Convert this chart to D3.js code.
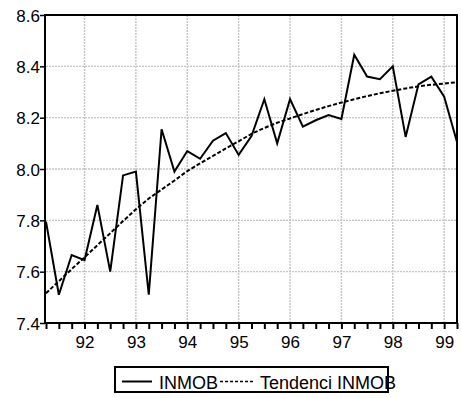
<!DOCTYPE html>
<html><head><meta charset="utf-8">
<script src="https://cdn.jsdelivr.net/npm/d3@7"></script>
<style>
html,body{margin:0;padding:0;background:#fff;}
svg{display:block;font-family:"Liberation Sans",Arial,Helvetica,sans-serif;}
</style></head>
<body>
<svg id="chart" width="461" height="398"></svg>
<script>
// Quarterly observations 1991Q2 .. 1999Q2
const quarters = ["1991Q2","1991Q3","1991Q4",
  "1992Q1","1992Q2","1992Q3","1992Q4",
  "1993Q1","1993Q2","1993Q3","1993Q4",
  "1994Q1","1994Q2","1994Q3","1994Q4",
  "1995Q1","1995Q2","1995Q3","1995Q4",
  "1996Q1","1996Q2","1996Q3","1996Q4",
  "1997Q1","1997Q2","1997Q3","1997Q4",
  "1998Q1","1998Q2","1998Q3","1998Q4",
  "1999Q1","1999Q2"];
const inmob = [7.795,7.51,7.665,7.645,7.86,7.60,7.975,7.99,7.51,8.155,7.99,8.07,8.04,8.11,8.14,8.055,8.128,8.272,8.10,8.272,8.165,8.19,8.21,8.195,8.445,8.36,8.35,8.40,8.125,8.33,8.36,8.282,8.105];
const tendencia = [7.516,7.563,7.610,7.656,7.703,7.750,7.797,7.843,7.885,7.920,7.955,7.992,8.022,8.051,8.080,8.108,8.137,8.160,8.180,8.197,8.214,8.230,8.245,8.259,8.272,8.284,8.295,8.305,8.314,8.322,8.328,8.333,8.338];
const yTicks = [7.4,7.6,7.8,8.0,8.2,8.4,8.6];
const yearLabels = ["92","93","94","95","96","97","98","99"];
const seriesNames = ["INMOB","Tendenci INMOB"];

const svg = d3.select("#chart");
const L = 46, R = 457, T = 15, B = 323;
const idx = quarters.map((q,i)=>i);
const x = d3.scaleLinear().domain([0, quarters.length-1]).range([L, R]);
const y = d3.scaleLinear().domain([7.4, 8.6]).range([B, T]);

// year positions: first quarter of each year
const yearIdx = idx.filter(i => quarters[i].endsWith("Q1"));

// grid
const grid = svg.append("g").attr("stroke","#c4c4c4").attr("stroke-width",1.4).attr("stroke-dasharray","2,1");
grid.selectAll("line.v").data(yearIdx).join("line")
  .attr("x1", d=>x(d)).attr("x2", d=>x(d)).attr("y1", T).attr("y2", B);
grid.selectAll("line.h").data(yTicks.slice(1,-1)).join("line")
  .attr("x1", L).attr("x2", R).attr("y1", d=>y(d)).attr("y2", d=>y(d));

// axes
const xAxis = d3.axisBottom(x).tickValues(idx).tickSize(6).tickSizeOuter(0)
  .tickFormat(i => quarters[i].endsWith("Q1") ? quarters[i].slice(2,4) : "");
const gx = svg.append("g").attr("transform",`translate(0,${B})`).call(xAxis);
gx.select(".domain").remove();
gx.selectAll(".tick line").attr("stroke","#000").attr("stroke-width",2);
gx.selectAll(".tick text").attr("font-size",17).attr("fill","#000").attr("dy","0.95em").attr("font-family",null);

const yAxis = d3.axisLeft(y).tickValues(yTicks).tickSize(5).tickSizeOuter(0).tickFormat(d3.format(".1f"));
const gy = svg.append("g").attr("transform",`translate(${L-1},0)`).call(yAxis);
gy.select(".domain").remove();
gy.selectAll(".tick line").attr("stroke","#000").attr("stroke-width",1.5);
gy.selectAll(".tick text").attr("font-size",17).attr("fill","#000").attr("x",-5).attr("dy","0.36em").attr("font-family",null);

// series
const line = d3.line().x((d,i)=>x(i)).y(d=>y(d));
svg.append("path").datum(tendencia).attr("d", line).attr("fill","none")
  .attr("stroke","#000").attr("stroke-width",2).attr("stroke-dasharray","4,2");
svg.append("path").datum(inmob).attr("d", line).attr("fill","none")
  .attr("stroke","#000").attr("stroke-width",2).attr("stroke-linejoin","miter");

// frame
svg.append("rect").attr("x",L-1).attr("y",T).attr("width",R-L+1).attr("height",B-T)
  .attr("fill","none").attr("stroke","#000").attr("stroke-width",2);

// legend
const lg = svg.append("g");
lg.append("rect").attr("x",115).attr("y",367).attr("width",273).attr("height",25)
  .attr("fill","none").attr("stroke","#000").attr("stroke-width",2);
lg.append("line").attr("x1",122).attr("x2",152).attr("y1",381.5).attr("y2",381.5)
  .attr("stroke","#000").attr("stroke-width",2);
lg.append("text").attr("x",159).attr("y",388.5).attr("font-size",18).text(seriesNames[0]);
lg.append("line").attr("x1",220).attr("x2",255).attr("y1",381.5).attr("y2",381.5)
  .attr("stroke","#000").attr("stroke-width",1.5).attr("stroke-dasharray","3,2");
lg.append("text").attr("x",260).attr("y",388.5).attr("font-size",18).text(seriesNames[1]);
</script>
</body></html>
